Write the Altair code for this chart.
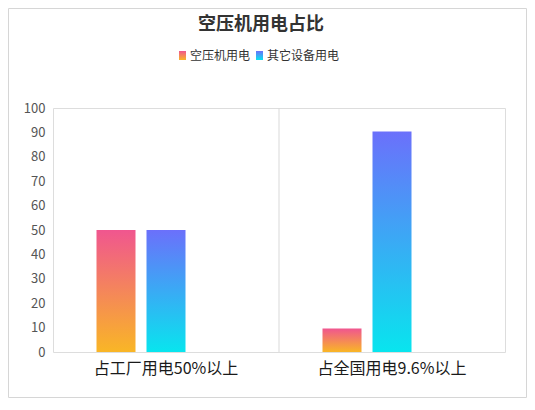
import altair as alt
import pandas as pd

categories = ["占工厂用电50%以上", "占全国用电9.6%以上"]
series_names = ["空压机用电", "其它设备用电"]
compressor = [50, 9.6]
others = [50, 90.4]
slot_domain = series_names + ["　"]  # third (empty) slot as in the original

rows = []
for i, c in enumerate(categories):
    rows.append({"cat": c, "series": series_names[0], "value": compressor[i]})
    rows.append({"cat": c, "series": series_names[1], "value": others[i]})
df = pd.DataFrame(rows)

FONT = "Noto Sans CJK SC"
W, H = 452, 244

grad1 = alt.Gradient(gradient="linear", x1=0, x2=0, y1=0, y2=1,
                     stops=[alt.GradientStop(color="#f0568f", offset=0),
                            alt.GradientStop(color="#f9b626", offset=1)])
grad2 = alt.Gradient(gradient="linear", x1=0, x2=0, y1=0, y2=1,
                     stops=[alt.GradientStop(color="#6b70fb", offset=0),
                            alt.GradientStop(color="#08e5ee", offset=1)])

x_scale = alt.Scale(domain=categories, paddingInner=0, paddingOuter=0)
x_enc = alt.X("cat:N", sort=categories, scale=x_scale,
              axis=alt.Axis(title=None, labelAngle=0, labelFontSize=16, labelColor="#1a1a1a",
                            labelFont=FONT, ticks=False, domain=False, grid=False,
                            labelPadding=8))
x_enc_noaxis = alt.X("cat:N", sort=categories, scale=x_scale, axis=None)
xo_enc = alt.XOffset("series:N", scale=alt.Scale(domain=slot_domain, paddingInner=0.22, paddingOuter=0.87))
y_enc = alt.Y("value:Q", scale=alt.Scale(domain=[0, 100], nice=False),
              axis=alt.Axis(title=None, values=list(range(0, 101, 10)), labelFontSize=13,
                            labelColor="#555555", labelFont=FONT, ticks=False, domain=False,
                            grid=False, labelPadding=8))

base = alt.Chart(df)
bars1 = base.transform_filter(alt.datum.series == series_names[0]).mark_bar(color=grad1).encode(
    x=x_enc, xOffset=xo_enc, y=y_enc)
bars2 = base.transform_filter(alt.datum.series == series_names[1]).mark_bar(color=grad2).encode(
    x=x_enc_noaxis, xOffset=xo_enc, y=y_enc)

# divider between categories
divider = alt.Chart(pd.DataFrame({"cat": [categories[1]]})).mark_rule(
    color="#d9d9d9", strokeWidth=1).encode(
    x=alt.X("cat:N", sort=categories, bandPosition=0, axis=None),
    y=alt.value(0), y2=alt.value(H))

# custom legend with gradient swatches
leg_df = pd.DataFrame({"name": series_names})
sw1 = alt.Chart(leg_df.iloc[[0]]).mark_rect(color=grad1).encode(
    x=alt.value(126), x2=alt.value(133), y=alt.value(-57), y2=alt.value(-48))
sw2 = alt.Chart(leg_df.iloc[[1]]).mark_rect(color=grad2).encode(
    x=alt.value(203), x2=alt.value(210), y=alt.value(-57), y2=alt.value(-48))
lt1 = alt.Chart(leg_df.iloc[[0]]).mark_text(align="left", baseline="middle", fontSize=12,
                                             font=FONT, color="#333333").encode(
    x=alt.value(137), y=alt.value(-52), text="name:N")
lt2 = alt.Chart(leg_df.iloc[[1]]).mark_text(align="left", baseline="middle", fontSize=12,
                                             font=FONT, color="#333333").encode(
    x=alt.value(214), y=alt.value(-52), text="name:N")

# outer frame
frame = alt.Chart(pd.DataFrame({"k": [0]})).mark_rect(
    fill="transparent", stroke="#d6d6d6", strokeWidth=1).encode(
    x=alt.value(-44.5), x2=alt.value(473.5), y=alt.value(-99.5), y2=alt.value(289.5))

chart = alt.layer(frame, divider, bars1, bars2, sw1, sw2, lt1, lt2).resolve_axis(
    x="independent"
).properties(
    width=W, height=H,
    title=alt.TitleParams("空压机用电占比", fontSize=18, font=FONT, fontWeight="bold",
                          color="#333333", anchor="middle", dx=-18, offset=-26),
    autosize=alt.AutoSizeParams(type="none"),
    padding={"left": 45, "top": 100, "right": 22, "bottom": 46},
).configure_view(stroke="#d9d9d9", strokeWidth=1).configure(background="white")

chart.save("out.html", embed_options={"renderer": "svg", "actions": False})
